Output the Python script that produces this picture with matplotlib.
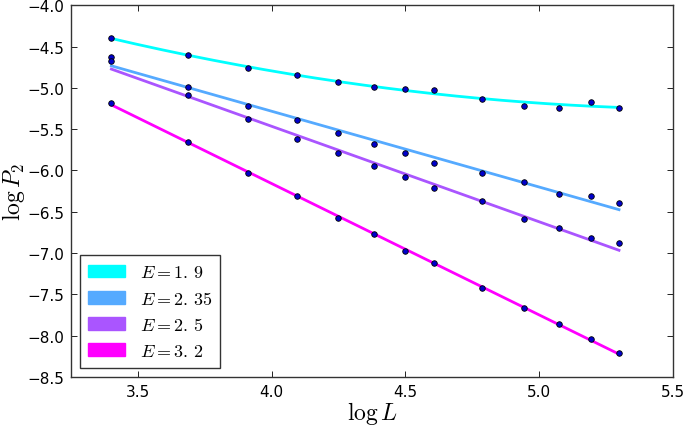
"""Finite-size scaling of P2 vs L, log-log, with fits per energy."""

import matplotlib
matplotlib.use("Agg")
import matplotlib.pyplot as plt
import matplotlib.patches as mpatches
import numpy as np

plt.rcParams["mathtext.fontset"] = "cm"

# log L for L = 30, 40, 50, 60, 70, 80, 90, 100, 120, 140, 160, 180, 200
log_L = [3.401, 3.689, 3.912, 4.094, 4.248, 4.382, 4.500,
         4.605, 4.787, 4.942, 5.075, 5.193, 5.298]

energies = [r"1.\,9", r"2.\,35", r"2.\,5", r"3.\,2"]

logP2_e19 = [-4.40, -4.60, -4.76, -4.85, -4.93, -4.985, -5.01,
             -5.03, -5.13, -5.22, -5.24, -5.17, -5.24]
logP2_e235 = [-4.63, -4.985, -5.22, -5.385, -5.55, -5.675, -5.79,
              -5.905, -6.03, -6.143, -6.285, -6.305, -6.397]
logP2_e25 = [-4.68, -5.086, -5.38, -5.615, -5.785, -5.945, -6.083,
             -6.208, -6.373, -6.583, -6.696, -6.82, -6.878]
logP2_e32 = [-5.186, -5.651, -6.03, -6.309, -6.57, -6.765, -6.97,
             -7.124, -7.426, -7.661, -7.862, -8.044, -8.206]

series = [logP2_e19, logP2_e235, logP2_e25, logP2_e32]
fit_degree = [2, 1, 1, 1]

colors = plt.cm.cool(np.linspace(0, 1, 4))

fig = plt.figure(figsize=(6.85, 4.27), dpi=100)
ax = fig.add_axes([0.1036, 0.1148, 0.879, 0.8705])

x = np.array(log_L)
xf = np.linspace(x.min(), x.max(), 200)
handles = []
for ys, deg, c, e in zip(series, fit_degree, colors, energies):
    coef = np.polyfit(x, ys, deg)
    ax.plot(xf, np.polyval(coef, xf), color=c, linewidth=2, zorder=2)
    ax.plot(x, ys, "o", color="#0000cc", markeredgecolor="black",
            markeredgewidth=0.6, markersize=4, zorder=3)
    handles.append(mpatches.Patch(facecolor=c, edgecolor=c,
                                  label=r"$E=%s$" % e))

ax.set_xlim(3.25, 5.5)
ax.set_ylim(-8.5, -4.0)
ax.set_xticks([3.5, 4.0, 4.5, 5.0, 5.5])
ax.set_yticks(np.arange(-8.5, -3.9, 0.5))

ax.set_xlabel(r"$\log L$", fontsize=17, labelpad=0)
ax.set_ylabel(r"$\log P_2$", fontsize=17, labelpad=0)

ax.tick_params(direction="in", top=True, right=True, labelsize=11,
               length=4, width=0.6, pad=5)
for s in ax.spines.values():
    s.set_linewidth(1.0)
    s.set_color("#333333")

leg = ax.legend(handles=handles, loc="lower left", fontsize=13,
                fancybox=False, framealpha=1, edgecolor="#333333",
                handlelength=2.05, handleheight=0.7, borderpad=0.45,
                labelspacing=0.45, borderaxespad=0.5)
leg.get_frame().set_linewidth(1.0)

fig.savefig("out.png", dpi=100)
